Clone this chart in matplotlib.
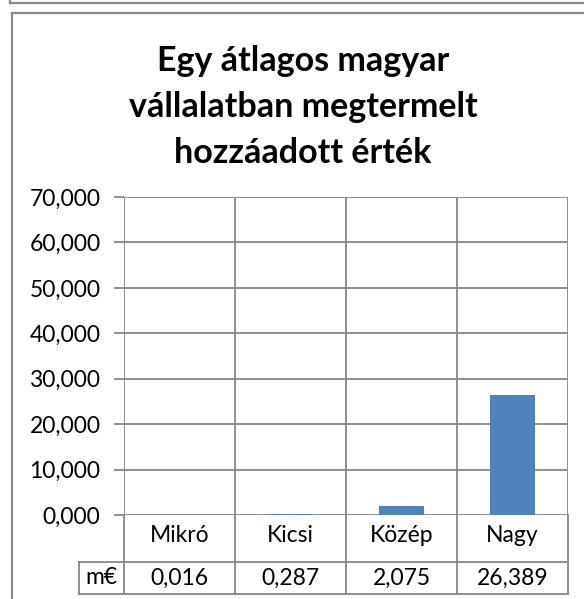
import numpy as np
import matplotlib
matplotlib.use("Agg")
import matplotlib.pyplot as plt
import matplotlib.transforms as mtransforms
from matplotlib.lines import Line2D

# ── Data ──────────────────────────────────────────────────────────────────────
categories = ["Mikró", "Kicsi", "Közép", "Nagy"]
values     = [0.016, 0.287, 2.075, 26.389]
row_label  = "m€"
yticks     = [0, 10, 20, 30, 40, 50, 60, 70]
title      = "Egy átlagos magyar\nvállalatban megtermelt\nhozzáadott érték"

plt.rcParams["font.family"] = ["Lato", "DejaVu Sans"]

GRID = "#878787"
BAR  = "#4F81BD"
FS   = 16.5

fmt = lambda v: f"{v:.3f}".replace(".", ",")

# ── Figure ────────────────────────────────────────────────────────────────────
fig = plt.figure(figsize=(5.84, 5.99), dpi=100, facecolor="white")
W, H = 584, 599

def fx(px): return px / W
def fy(py): return 1 - py / H

# outer frames (chart box and the edge of the box above it)
fig.add_artist(Line2D([fx(11.5), fx(11.5)], [fy(13), 0], color="#8a8a8a", lw=1.6))
fig.add_artist(Line2D([fx(11.5), 1], [fy(13), fy(13)], color="#8a8a8a", lw=1.6))
fig.add_artist(Line2D([fx(9.5), 1], [fy(2.5), fy(2.5)], color="#8a8a8a", lw=1.6))
fig.add_artist(Line2D([fx(9.5), fx(9.5)], [1, fy(2.5)], color="#8a8a8a", lw=1.6))

ax = fig.add_axes([fx(124), fy(515), fx(568) - fx(124), fy(197) - fy(515)])
x = np.arange(len(categories))
ax.bar(x, values, width=0.4, color=BAR, zorder=3)

ax.set_xlim(-0.5, len(categories) - 0.5)
ax.set_ylim(yticks[0], yticks[-1])
ax.set_yticks(yticks)
ax.set_yticklabels([fmt(t) for t in yticks], fontsize=FS)
ax.set_xticks([])
ax.tick_params(axis="y", length=7, width=1.3, color=GRID, pad=10)

for t in yticks:
    ax.axhline(t, color=GRID, lw=1.3, zorder=1)
for b in np.arange(-0.5, len(categories), 1.0):
    ax.axvline(b, color=GRID, lw=1.3, zorder=1)
for s in ax.spines.values():
    s.set_visible(False)

# ── Data table below the axis ────────────────────────────────────────────────
trans = mtransforms.blended_transform_factory(ax.transData, ax.transAxes)
hpx = 515 - 197
r1 = -47 / hpx      # bottom of category row
r2 = -79 / hpx      # bottom of value row
left = -0.5 - 45 / 111
right = len(categories) - 0.5

def line(xs, ys):
    ax.add_line(Line2D(xs, ys, transform=trans, color=GRID, lw=1.3, clip_on=False))

for b in np.arange(-0.5, len(categories), 1.0):
    line([b, b], [0, r2])
line([left, right], [r1, r1])
line([left, right], [r2, r2])
line([left, left], [r1, r2])

for i, (c, v) in enumerate(zip(categories, values)):
    ax.text(i, r1 / 2 + 0.008, c, transform=trans, ha="center", va="center", fontsize=FS)
    ax.text(i, (r1 + r2) / 2, fmt(v), transform=trans, ha="center", va="center", fontsize=FS)
ax.text((left - 0.5) / 2, (r1 + r2) / 2, row_label, transform=trans,
        ha="center", va="center", fontsize=FS)

# ── Title ─────────────────────────────────────────────────────────────────────
fig.text(fx(303), fy(107), title, ha="center", va="center", fontsize=24.5,
         fontweight="bold", linespacing=1.55)

fig.savefig("out.png", dpi=100, facecolor="white")
